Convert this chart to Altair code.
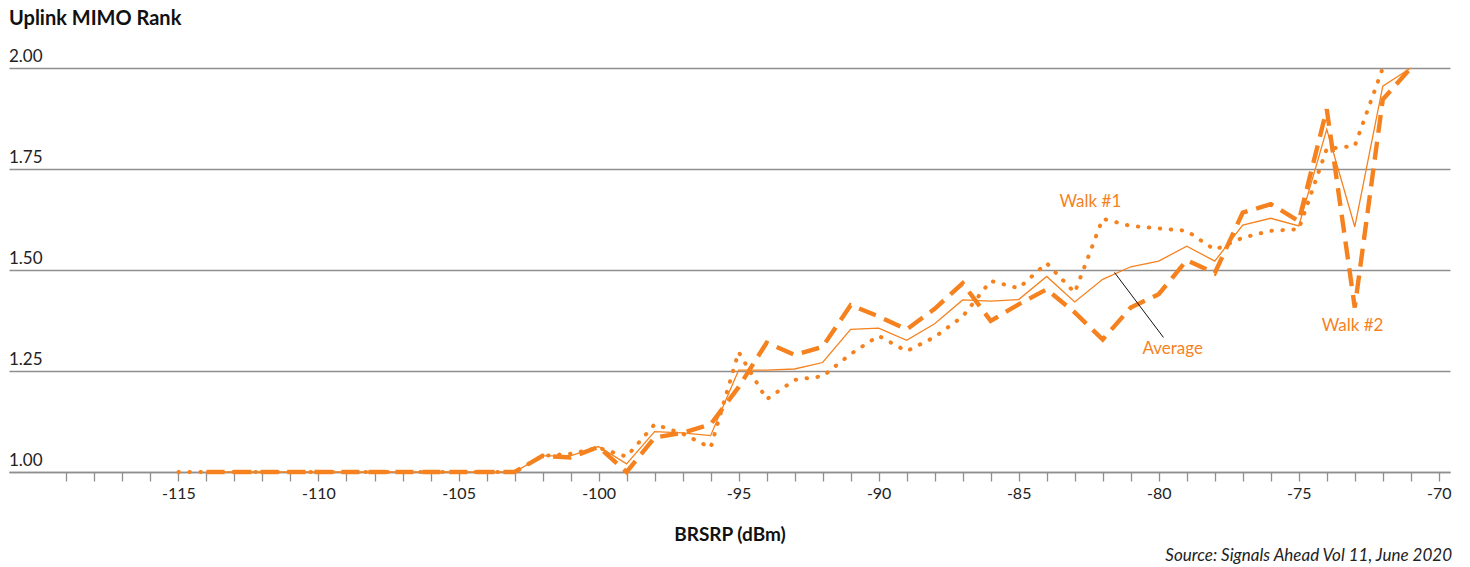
import altair as alt
import pandas as pd

ORANGE = "#F5821F"
GRAY = "#8f8f8f"
FONT = "Lato"

# ---- data ----
walk1_x = list(range(-115, -71))          # -115 .. -72
walk1_y = [1.0] * 13 + [
    1.04, 1.045, 1.06, 1.038, 1.118, 1.095, 1.06, 1.297, 1.18, 1.228,
    1.237, 1.292, 1.337, 1.299, 1.334, 1.385, 1.473, 1.455, 1.517, 1.444,
    1.627, 1.609, 1.603, 1.597, 1.55, 1.58, 1.597, 1.601, 1.80, 1.807, 2.0]

walk2_x = list(range(-114, -70))          # -114 .. -71
walk2_y = [1.0] * 12 + [
    1.04, 1.036, 1.062, 1.0, 1.085, 1.097, 1.118, 1.21, 1.32, 1.29,
    1.31, 1.413, 1.385, 1.353, 1.404, 1.467, 1.374, 1.415, 1.452, 1.395,
    1.328, 1.407, 1.44, 1.524, 1.492, 1.642, 1.663, 1.621, 1.898, 1.407,
    1.922, 2.0]

avg_x = list(range(-114, -70))            # -114 .. -71
avg_y = [1.0] * 12 + [
    1.04, 1.04, 1.063, 1.02, 1.10, 1.097, 1.09, 1.252, 1.252, 1.255,
    1.271, 1.353, 1.356, 1.326, 1.367, 1.426, 1.423, 1.427, 1.484, 1.421,
    1.477, 1.508, 1.522, 1.559, 1.522, 1.611, 1.628, 1.609, 1.848, 1.607,
    1.955, 2.0]

y_ticks = [1.0, 1.25, 1.5, 1.75, 2.0]
y_tick_labels = ["1.00", "1.25", "1.50", "1.75", "2.00"]
x_ticks = list(range(-119, -69))

ann_labels = ["Walk #1", "Average", "Walk #2"]
ann_x = [-82.44, -79.5, -73.08]
ann_y = [1.668, 1.304, 1.361]

leader = {"x": [-81.58], "y": [1.494], "x2": [-79.83], "y2": [1.333]}

title_text = "Uplink MIMO Rank"
x_title = "BRSRP (dBm)"
source_text = "Source: Signals Ahead Vol 11, June 2020"

# ---- frames ----
df1 = pd.DataFrame({"x": walk1_x, "y": walk1_y})
df2 = pd.DataFrame({"x": walk2_x, "y": walk2_y})
dfa = pd.DataFrame({"x": avg_x, "y": avg_y})
dfy = pd.DataFrame({"y": y_ticks, "lab": y_tick_labels})
dfann = pd.DataFrame({"lab": ann_labels, "x": ann_x, "y": ann_y})
dfl = pd.DataFrame(leader)

xscale = alt.Scale(domain=[-121.05, -69.6], nice=False, zero=False)
yscale = alt.Scale(domain=[1.0, 2.0], nice=False, zero=False)

x_axis = alt.Axis(
    values=x_ticks,
    labelExpr="datum.value % 5 == 0 ? '' + datum.value : ''",
    grid=False, domainColor=GRAY, domainWidth=1.5,
    tickColor=GRAY, tickWidth=1.3, tickSize=9,
    labelFont=FONT, labelFontSize=16, labelColor="#222222", labelPadding=4,
    titleFont=FONT, titleFontSize=19, titleFontWeight="bold", titleColor="#111111",
    titlePadding=24,
)
y_axis = alt.Axis(
    values=y_ticks, grid=True, gridColor=GRAY, gridWidth=1.5,
    labels=False, ticks=False, domain=False, title="",
)

X = alt.X("x:Q", scale=xscale, axis=x_axis, title=x_title)
Y = alt.Y("y:Q", scale=yscale, axis=y_axis, title="")

avg_line = alt.Chart(dfa).mark_line(color=ORANGE, strokeWidth=1.3).encode(x=X, y=Y)
w1_line = alt.Chart(df1).mark_line(
    color=ORANGE, strokeWidth=4, strokeDash=[0.5, 10.5], strokeCap="round"
).encode(x=X, y=Y)
w2_line = alt.Chart(df2).mark_line(
    color=ORANGE, strokeWidth=4.4, strokeDash=[18, 9], strokeCap="butt"
).encode(x=X, y=Y)

ylabels = alt.Chart(dfy).mark_text(
    align="left", baseline="alphabetic", dy=-6, font=FONT, fontSize=17, color="#222222"
).encode(x=alt.value(0), y=Y, text="lab:N")

ann = alt.Chart(dfann).mark_text(
    align="center", baseline="middle", font=FONT, fontSize=17, color=ORANGE
).encode(x=X, y=Y, text="lab:N")

rule = alt.Chart(dfl).mark_rule(color="#111111", strokeWidth=1).encode(
    x=X, y=Y, x2="x2:Q", y2="y2:Q")

title = alt.Chart(pd.DataFrame({"t": [title_text]})).mark_text(
    align="left", baseline="middle", font=FONT, fontSize=20, fontWeight="bold", color="#111111"
).encode(x=alt.value(0), y=alt.value(-49), text="t:N")

source = alt.Chart(pd.DataFrame({"t": [source_text]})).mark_text(
    align="right", baseline="middle", font=FONT, fontSize=17, fontStyle="italic", color="#222222"
).encode(x=alt.value(1443), y=alt.value(488), text="t:N")

chart = alt.layer(
    w1_line, w2_line, avg_line, rule, ann, ylabels, title, source
).properties(
    width=1441, height=404,
    autosize=alt.AutoSizeParams(type="none"),
    padding={"left": 9, "top": 68, "right": 20, "bottom": 95},
    background="white",
).configure_view(stroke=None)

chart.save("out.html", embed_options={"renderer": "svg", "actions": False})
